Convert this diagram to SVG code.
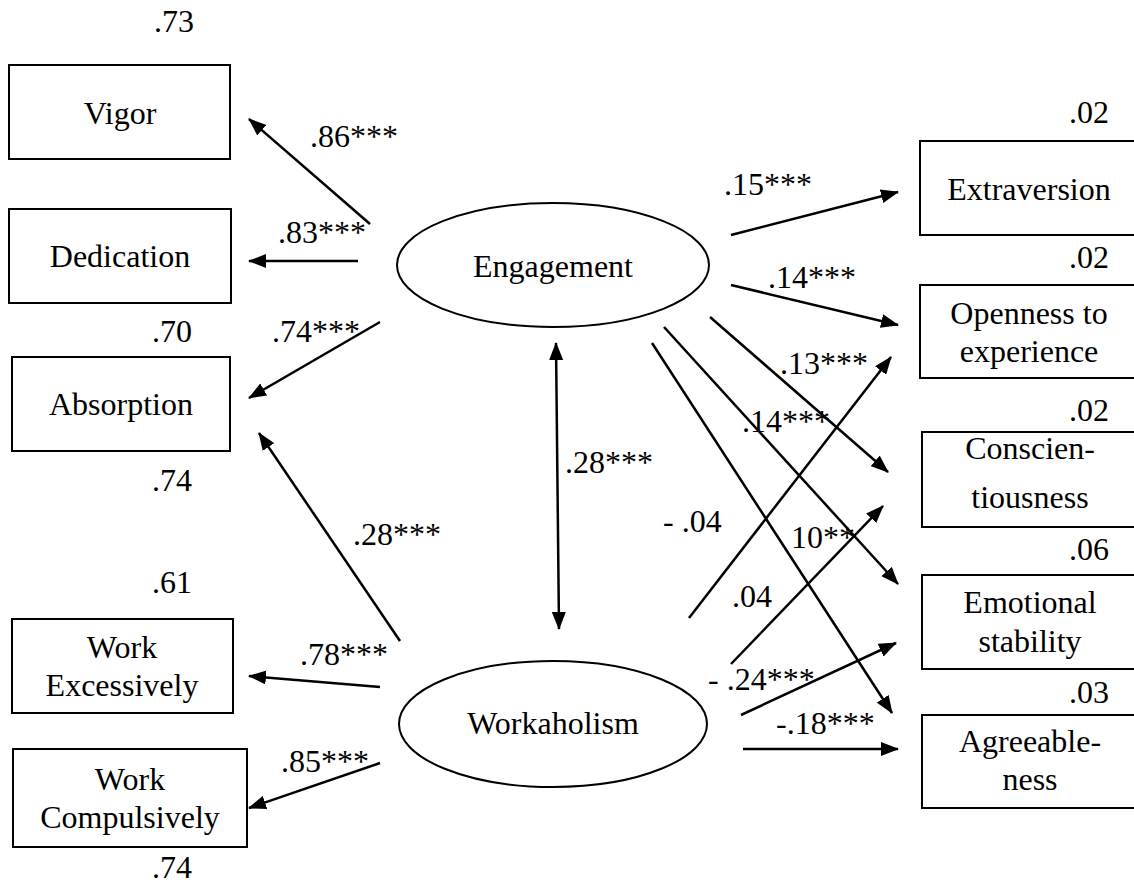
<svg xmlns="http://www.w3.org/2000/svg" width="1134" height="886" viewBox="0 0 1134 886" font-family="'Liberation Serif', 'Times New Roman', Tinos, 'DejaVu Serif', serif" font-size="32">
<style>
text{font-family:'Liberation Serif','Times New Roman',Tinos,'DejaVu Serif',serif;font-size:32px;fill:#000}
.c{text-anchor:middle}
.box{fill:#fff;stroke:#000;stroke-width:2}
.ell{fill:#fff;stroke:#000;stroke-width:2}
.ln{stroke:#000;stroke-width:2.5;fill:none;marker-end:url(#ah)}
.dbl{marker-start:url(#ah)}
</style>
<defs>
<marker id="ah" markerUnits="userSpaceOnUse" markerWidth="18" markerHeight="14" viewBox="0 0 18 14" refX="17" refY="7" orient="auto-start-reverse">
<path d="M0,0 L18,7 L0,14 z" fill="#000"/>
</marker>
</defs>
<rect width="1134" height="886" fill="#fff"/>

<g id="connectors">
<line class="ln" x1="370" y1="224" x2="249" y2="119"/>
<line class="ln" x1="358" y1="261" x2="249" y2="261"/>
<line class="ln" x1="380" y1="322" x2="249" y2="398"/>
<line class="ln" x1="400" y1="641" x2="259" y2="433"/>
<line class="ln" x1="380" y1="687" x2="249" y2="676"/>
<line class="ln" x1="380" y1="763" x2="249" y2="808"/>
<line class="ln dbl" x1="556" y1="343" x2="559" y2="629"/>
<line class="ln" x1="731" y1="235" x2="898" y2="192"/>
<line class="ln" x1="731" y1="285" x2="898" y2="325"/>
<line class="ln" x1="710" y1="317" x2="888" y2="472"/>
<line class="ln" x1="664" y1="327" x2="898" y2="584"/>
<line class="ln" x1="652" y1="343" x2="892" y2="713"/>
<line class="ln" x1="689" y1="618" x2="891" y2="357"/>
<line class="ln" x1="731" y1="664" x2="883" y2="506"/>
<line class="ln" x1="741" y1="715" x2="896" y2="643"/>
<line class="ln" x1="743" y1="749" x2="898" y2="749"/>
</g>

<g id="labels">
<text x="154" y="32">.73</text>
<text x="310" y="147">.86***</text>
<text x="278" y="243">.83***</text>
<text x="152" y="342">.70</text>
<text x="272" y="342">.74***</text>
<text x="152" y="491">.74</text>
<text x="353" y="545">.28***</text>
<text x="152" y="593">.61</text>
<text x="300" y="665">.78***</text>
<text x="281" y="772">.85***</text>
<text x="152" y="878">.74</text>
<text x="565" y="473">.28***</text>
<text x="724" y="195">.15***</text>
<text x="768" y="288">.14***</text>
<text x="780" y="374">.13***</text>
<text x="742" y="432">.14***</text>
<text x="663" y="532">- .04</text>
<text x="791" y="548">10**</text>
<text x="732" y="607">.04</text>
<text x="708" y="690">- .24***</text>
<text x="776" y="734">-.18***</text>
<text x="1069" y="123">.02</text>
<text x="1069" y="268">.02</text>
<text x="1069" y="421">.02</text>
<text x="1069" y="560">.06</text>
<text x="1069" y="703">.03</text>
</g>

<g id="vigor"><rect class="box" x="9" y="65" width="221" height="94"/><text class="c" x="120" y="124">Vigor</text></g>
<g id="dedication"><rect class="box" x="9" y="209" width="222" height="94"/><text class="c" x="120" y="267">Dedication</text></g>
<g id="absorption"><rect class="box" x="12" y="357" width="218" height="94"/><text class="c" x="121" y="415">Absorption</text></g>
<g id="work-excessively"><rect class="box" x="12" y="619" width="221" height="94"/><text class="c" x="122" y="658">Work</text><text class="c" x="122" y="696">Excessively</text></g>
<g id="work-compulsively"><rect class="box" x="13" y="749" width="234" height="98"/><text class="c" x="130" y="790">Work</text><text class="c" x="130" y="828">Compulsively</text></g>

<g id="engagement"><ellipse class="ell" cx="553" cy="265" rx="156" ry="62"/><text class="c" x="553" y="277">Engagement</text></g>
<g id="workaholism"><ellipse class="ell" cx="553" cy="724" rx="154" ry="63"/><text class="c" x="553" y="734">Workaholism</text></g>

<g id="extraversion"><rect class="box" x="920" y="141" width="220" height="94"/><text class="c" x="1029" y="200">Extraversion</text></g>
<g id="openness"><rect class="box" x="920" y="285" width="220" height="93"/><text class="c" x="1029" y="324">Openness to</text><text class="c" x="1029" y="362">experience</text></g>
<g id="conscientiousness"><rect class="box" x="922" y="432" width="218" height="95"/><text class="c" x="1030" y="459">Conscien-</text><text class="c" x="1030" y="508">tiousness</text></g>
<g id="emotional-stability"><rect class="box" x="922" y="575" width="218" height="94"/><text class="c" x="1030" y="613">Emotional</text><text class="c" x="1030" y="652">stability</text></g>
<g id="agreeableness"><rect class="box" x="922" y="715" width="218" height="93"/><text class="c" x="1030" y="752">Agreeable-</text><text class="c" x="1030" y="790">ness</text></g>
</svg>
